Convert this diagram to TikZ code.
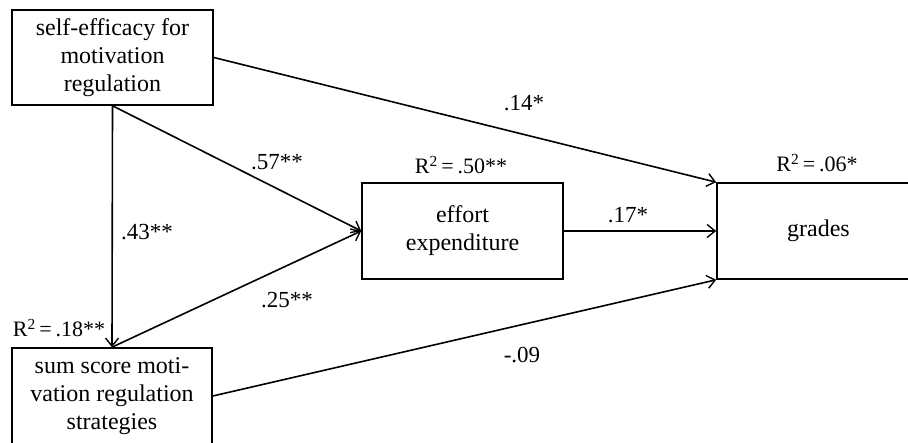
\documentclass[tikz,border=0pt]{standalone}
\usepackage{fontspec}
\setmainfont{Liberation Serif}
\usetikzlibrary{arrows.meta}
\begin{document}
\begin{tikzpicture}[x=1pt,y=-1pt,
  box/.style={draw,line width=1.6pt,rectangle,inner sep=0pt,align=center,
    font=\fontsize{24}{28}\selectfont},
  arr/.style={line width=1.6pt,-{Straight Barb[length=8pt,width=13pt,line width=1.4pt]}},
  lbl/.style={font=\fontsize{23}{27}\selectfont,inner sep=0pt},
  rlbl/.style={font=\fontsize{22}{26}\selectfont,inner sep=0pt}]
\useasboundingbox (0,0) rectangle (908,443);
\node[box,minimum width=201pt,minimum height=95pt] (A) at (112.5,57.5) {self-efficacy for\\motivation\\regulation};
\node[box,minimum width=200pt,minimum height=96pt] (B) at (112,396) {sum score moti-\\vation regulation\\strategies};
\node[box,minimum width=201pt,minimum height=96pt] (C) at (462.5,231) {effort\\expenditure};
\node[box,minimum width=203pt,minimum height=96pt] (D) at (818.5,231) {grades};
\draw[arr] (A.south) -- (B.north);
\draw[arr] (A.south) -- (C.west);
\draw[arr] (B.north) -- (C.west);
\draw[arr] (A.east) -- (D.north west);
\draw[arr] (C.east) -- (D.west);
\draw[arr] (B.east) -- (D.south west);
\node[lbl] (l14) at (524,103) {.14*};
\node[lbl] (l57) at (277,162) {.57**};
\node[lbl] (l43) at (147,232) {.43**};
\node[lbl] (l25) at (287,300) {.25**};
\node[lbl] (l17) at (628,215) {.17*};
\node[lbl] (l09) at (522,355) {-.09};
\node[rlbl] (r18) at (59,328) {R\textsuperscript{2}\,=\,.18**};
\node[rlbl] (r50) at (461,165) {R\textsuperscript{2}\,=\,.50**};
\node[rlbl] (r06) at (817,163) {R\textsuperscript{2}\,=\,.06*};
\end{tikzpicture}
\end{document}
